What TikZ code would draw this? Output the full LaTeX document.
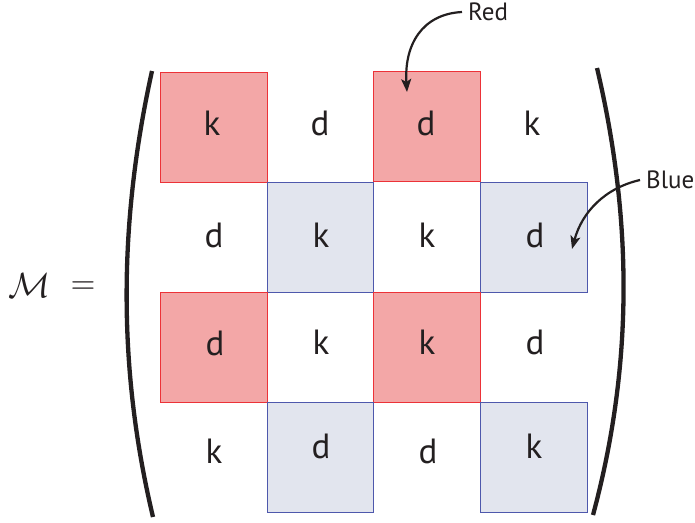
\documentclass[tikz,border=0pt]{standalone}
\usepackage{fontspec}
\setmainfont{PT Sans}
\usetikzlibrary{arrows.meta}
\definecolor{redfill}{RGB}{243,167,167}
\definecolor{redline}{RGB}{236,50,56}
\definecolor{bluefill}{RGB}{226,229,238}
\definecolor{blueline}{RGB}{78,88,172}
\definecolor{ink}{RGB}{35,31,32}
\tikzset{
  cellbox/.style={minimum width=106.5pt,minimum height=110pt,inner sep=0pt,line width=1pt},
  redcell/.style={cellbox,fill=redfill,draw=redline},
  bluecell/.style={cellbox,fill=bluefill,draw=blueline},
  entry/.style={anchor=base,inner sep=0pt,text=ink,font=\fontsize{35}{40}\selectfont},
  paren/.style={line width=4.3pt,ink},
  tag/.style={anchor=west,inner xsep=6pt,inner ysep=0pt,text=ink,font=\fontsize{25}{30}\selectfont},
  pointer/.style={line width=2.2pt,ink,-{Stealth[length=13pt,width=10pt,inset=3pt]}},
  mathpart/.style={inner sep=0pt,text=ink,font=\fontsize{10}{12}\selectfont}
}
\begin{document}
\begin{tikzpicture}[x=1pt,y=-1pt]
\useasboundingbox (0,0) rectangle (695,522);
% shaded cells
\node[redcell]  (r11) at (214,127) {};
\node[redcell]  (r13) at (427,126) {};
\node[bluecell] (b22) at (320.5,237) {};
\node[bluecell] (b24) at (534,237) {};
\node[redcell]  (r31) at (214,347) {};
\node[redcell]  (r33) at (427,347) {};
\node[bluecell] (b42) at (320.5,457) {};
\node[bluecell] (b44) at (534,457) {};
% entries
\node[entry] (e11) at (212,135) {k};
\node[entry] (e12) at (320,135) {d};
\node[entry] (e13) at (426,135) {d};
\node[entry] (e14) at (532,135) {k};
\node[entry] (e21) at (214,247) {d};
\node[entry] (e22) at (321,247) {k};
\node[entry] (e23) at (427,247) {k};
\node[entry] (e24) at (535,247) {d};
\node[entry] (e31) at (215,355) {d};
\node[entry] (e32) at (321,354) {k};
\node[entry] (e33) at (427,354) {k};
\node[entry] (e34) at (535,354) {d};
\node[entry] (e41) at (214,463) {k};
\node[entry] (e42) at (321,458) {d};
\node[entry] (e43) at (428,463) {d};
\node[entry] (e44) at (534,458) {k};
% parentheses
\draw[paren] (152,71) .. controls (118,225) and (118,370) .. (153,517);
\draw[paren] (597,68) .. controls (634,225) and (632,370) .. (593,515);
% M =
\node[mathpart,scale=3.5] (lhs) at (30,285.5) {$\mathcal{M}$};
\node[mathpart,scale=3.2] (eq) at (83,288) {$=$};
% labels and pointers
\node[tag] (red) at (462,12) {Red};
\node[tag] (blue) at (640,180) {Blue};
\coordinate (redtip) at (407,92);
\coordinate (bluetip) at (572,249);
\draw[pointer] (red.west) .. controls (422,14) and (404,45) .. (redtip);
\draw[pointer] (blue.west) .. controls (605,188) and (582,212) .. (bluetip);
\end{tikzpicture}
\end{document}
